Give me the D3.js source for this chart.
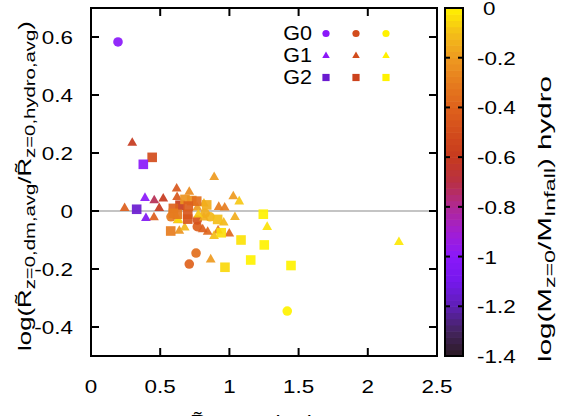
<!DOCTYPE html>
<html>
<head>
<meta charset="utf-8">
<script src="https://cdn.jsdelivr.net/npm/d3@7"></script>
<style>
  html, body { margin: 0; padding: 0; background: #fff; }
  svg { display: block; font-family: "Liberation Sans", Arial, sans-serif; }
</style>
</head>
<body>
<svg id="chart" width="561" height="416"></svg>
<script>
// ---------------- data ----------------
// G0 (circles): x, y, colour value
const g0X = [0.195, 0.759, 0.710, 0.768, 0.768, 0.578, 0.860, 1.418, 0.824];
const g0Y = [0.583, -0.145, -0.183, -0.054, -0.031, -0.020, -0.020, -0.345, -0.008];
const g0C = [-1.00, -0.35, -0.40, -0.42, -0.47, -0.30, -0.12, 0.00, -0.15];

// G1 (triangles)
const g1X = [0.298, 0.890, 0.619, 0.710, 0.390, 0.457, 0.522, 0.243, 0.493, 0.397,
             0.455, 1.028, 1.071, 1.040, 1.273, 0.865, 0.959, 0.999, 0.918, 0.889,
             0.843, 0.807, 0.638, 0.677, 0.626, 0.768, 0.816, 0.923, 0.966, 0.816,
             0.775, 0.622, 2.225, 0.631];
const g1Y = [0.236, 0.118, 0.078, 0.067, 0.046, 0.038, 0.044, 0.011, 0.011, -0.023,
             -0.021, 0.052, 0.034, -0.020, -0.054, -0.166, -0.039, -0.077, -0.066, -0.085,
             -0.071, -0.062, -0.067, -0.056, -0.031, 0.013, 0.027, 0.015, 0.013, -0.022,
             -0.011, 0.049, -0.106, -0.029];
const g1C = [-0.60, -0.20, -0.45, -0.25, -1.00, -0.72, -0.60, -0.42, -0.60, -1.05,
             -0.42, -0.20, -0.08, -0.15, -0.03, -0.20, -0.12, -0.38, -0.30, -0.10,
             -0.38, -0.42, -0.22, -0.12, -0.15, -0.20, -0.12, -0.30, -0.30, -0.15,
             -0.08, -0.45, -0.02, -0.05];

// G2 (squares)
const g2X = [0.442, 0.378, 0.330, 1.245, 1.084, 1.252, 1.154, 0.968, 1.445, 0.941,
             0.576, 0.699, 0.699, 0.643, 0.595, 0.624, 0.679, 0.728, 0.764, 0.703,
             0.836, 0.915, 0.595];
const g2Y = [0.185, 0.161, 0.006, -0.011, -0.100, -0.117, -0.169, -0.194, -0.188, -0.075,
             -0.069, -0.028, -0.011, 0.020, 0.009, -0.011, 0.040, 0.036, 0.034, 0.017,
             0.021, -0.029, -0.008];
const g2C = [-0.50, -1.00, -1.15, 0.00, -0.03, 0.00, 0.00, -0.05, 0.00, -0.04,
             -0.30, -0.45, -0.45, -0.58, -0.40, -0.32, -0.22, -0.22, -0.35, -0.42,
             -0.15, -0.10, -0.30];

// axis ticks
const xTicks = [0, 0.5, 1, 1.5, 2, 2.5];
const yTicks = [-0.4, -0.2, 0, 0.2, 0.4, 0.6];
const cTicks = [-1.4, -1.2, -1, -0.8, -0.6, -0.4, -0.2, 0];

// palette stops (value -> colour)
const palVals = [-1.4, -1.3, -1.2, -1.1, -1.0, -0.9, -0.8, -0.7, -0.6, -0.5, -0.4, -0.3, -0.2, -0.1, 0];
const palCols = ["#2a1a22", "#44245e", "#5e1fb4", "#7518ec", "#8a18fa", "#a21ed2", "#b02894", "#b83044",
                 "#c63a1e", "#d24c1c", "#de621c", "#e67c1e", "#ee9a20", "#f4be18", "#fff200"];

// legend
const legendNames = ["G0", "G1", "G2"];
const legendVals = [[-1.0, -0.5, 0], [-1.0, -0.5, 0], [-1.15, -0.55, 0]];

// ---------------- drawing ----------------
const svg = d3.select("#chart");
const L = 91, R = 437, T = 8, B = 356;
const x = d3.scaleLinear().domain([0, 2.5]).range([L, R]);
const y = d3.scaleLinear().domain([-0.5, 0.7]).range([B, T]);
const pal = d3.scaleLinear().domain(palVals).range(palCols).clamp(true);
const FS = 19, SUB = 15, SX = 1.18;

function stretch(sel, ax, ay, sx) {
  sel.attr("transform", `translate(${ax},${ay}) scale(${sx},1) translate(${-ax},${-ay})`);
}
function fitTitle(txt, cx, cy, target) {
  const len = txt.node().getComputedTextLength();
  txt.attr("transform", `translate(${cx},${cy}) rotate(-90) scale(${target / len},1)`);
}

// zero line
svg.append("line").attr("x1", x(0)).attr("x2", x(2.5)).attr("y1", y(0)).attr("y2", y(0))
  .attr("stroke", "#c4c4c4").attr("stroke-width", 2);

function triPath(w) {
  const h = w * 0.87;
  return `M0,${-h*0.62}L${w/2},${h*0.38}L${-w/2},${h*0.38}Z`;
}

const gPts = svg.append("g");
gPts.selectAll("circle.g0").data(g0X.map((v, i) => ({x: v, y: g0Y[i], c: g0C[i]})))
  .join("circle").attr("cx", d => x(d.x)).attr("cy", d => y(d.y)).attr("r", 4.8)
  .attr("fill", d => pal(d.c)).attr("fill-opacity", 0.92);
gPts.selectAll("path.g1").data(g1X.map((v, i) => ({x: v, y: g1Y[i], c: g1C[i]})))
  .join("path").attr("transform", d => `translate(${x(d.x)},${y(d.y)})`).attr("d", triPath(9.8))
  .attr("fill", d => pal(d.c)).attr("fill-opacity", 0.92);
gPts.selectAll("rect.g2").data(g2X.map((v, i) => ({x: v, y: g2Y[i], c: g2C[i]})))
  .join("rect").attr("x", d => x(d.x) - 4.8).attr("y", d => y(d.y) - 4.8)
  .attr("width", 9.6).attr("height", 9.6)
  .attr("fill", d => pal(d.c)).attr("fill-opacity", 0.92);

// frame + ticks
const axG = svg.append("g").attr("stroke", "#000").attr("stroke-width", 2);
const TL = 8;
xTicks.forEach(t => {
  axG.append("line").attr("x1", x(t)).attr("x2", x(t)).attr("y1", B).attr("y2", B - TL);
  axG.append("line").attr("x1", x(t)).attr("x2", x(t)).attr("y1", T).attr("y2", T + TL);
});
yTicks.forEach(t => {
  axG.append("line").attr("x1", L).attr("x2", L + TL).attr("y1", y(t)).attr("y2", y(t));
  axG.append("line").attr("x1", R).attr("x2", R - TL).attr("y1", y(t)).attr("y2", y(t));
});
axG.append("rect").attr("x", L).attr("y", T).attr("width", R - L).attr("height", B - T).attr("fill", "none");

const fmt = d => (Math.abs(d) < 1e-9 ? "0" : String(+d.toFixed(1)));
svg.append("g").selectAll("text").data(xTicks).join("text")
  .attr("x", d => x(d)).attr("y", 393).attr("text-anchor", "middle")
  .attr("font-size", FS).text(fmt)
  .each(function(d) { stretch(d3.select(this), x(d), 393, SX); });
svg.append("g").selectAll("text").data(yTicks).join("text")
  .attr("x", 73).attr("y", d => y(d) + 7).attr("text-anchor", "end")
  .attr("font-size", FS).text(fmt)
  .each(function(d) { stretch(d3.select(this), 73, y(d) + 7, SX); });

// y axis title
const yt = svg.append("text").attr("text-anchor", "middle").attr("font-size", FS);
yt.append("tspan").text("log(R\u0303");
yt.append("tspan").attr("font-size", SUB).attr("dy", 4).text("z=0,dm,avg");
yt.append("tspan").attr("dy", -4).text("/R\u0303");
yt.append("tspan").attr("font-size", SUB).attr("dy", 4).text("z=0,hydro,avg");
yt.append("tspan").attr("dy", -4).text(")");
fitTitle(yt, 31, 186, 330);

// x axis title (partly cut off at the bottom, as in the original)
const xt = svg.append("text").attr("text-anchor", "middle").attr("font-size", FS);
xt.append("tspan").text("R\u0303");
xt.append("tspan").attr("font-size", SUB).attr("dy", 4).text("z=0,avg");
xt.append("tspan").attr("dy", -4).text(" hydro");
{
  const len = xt.node().getComputedTextLength();
  xt.attr("transform", `translate(261,428) scale(${142 / len},1)`);
}

// legend
const legX = 312, legY = [40, 62, 84];
const legCols = [326, 356, 386];
legendNames.forEach((n, i) => {
  const t = svg.append("text").attr("x", legX).attr("y", legY[i]).attr("text-anchor", "end")
    .attr("font-size", FS + 1).text(n);
  stretch(t, legX, legY[i], 1.08);
  legendVals[i].forEach((v, j) => {
    const cx = legCols[j], cy = legY[i] - 6.5;
    if (i === 0) svg.append("circle").attr("cx", cx).attr("cy", cy).attr("r", 3.6).attr("fill", pal(v));
    else if (i === 1) svg.append("path").attr("transform", `translate(${cx},${cy})`).attr("d", triPath(7.5)).attr("fill", pal(v));
    else svg.append("rect").attr("x", cx - 3.6).attr("y", cy - 3.6).attr("width", 7.2).attr("height", 7.2).attr("fill", pal(v));
  });
});

// colour bar
const CL = 445, CR = 463;
const cy = d3.scaleLinear().domain([-1.4, 0]).range([B, T]);
const nBand = 56;
const bands = d3.range(nBand).map(i => -1.4 + i * (1.4 / nBand));
svg.append("g").selectAll("rect").data(bands).join("rect")
  .attr("x", CL).attr("width", CR - CL)
  .attr("y", d => cy(d + 1.4 / nBand)).attr("height", cy(0) - cy(1.4 / nBand) + 0.6)
  .attr("fill", d => pal(d + 0.7 / nBand));
const cbG = svg.append("g").attr("stroke", "#000").attr("stroke-width", 2);
cTicks.forEach(t => {
  cbG.append("line").attr("x1", CL).attr("x2", CL + 5).attr("y1", cy(t)).attr("y2", cy(t));
  cbG.append("line").attr("x1", CR).attr("x2", CR - 5).attr("y1", cy(t)).attr("y2", cy(t));
});
cbG.append("rect").attr("x", CL).attr("y", T).attr("width", CR - CL).attr("height", B - T).attr("fill", "none");
svg.append("g").selectAll("text").data(cTicks).join("text")
  .attr("x", d => d < -1e-9 ? 477 : 483).attr("y", d => cy(d) + 7)
  .attr("font-size", FS).text(fmt)
  .each(function(d) { const ax = d < -1e-9 ? 477 : 483; stretch(d3.select(this), ax, cy(d) + 7, SX); });

// colour bar title
const ct = svg.append("text").attr("text-anchor", "middle").attr("font-size", FS);
ct.append("tspan").text("log(M");
ct.append("tspan").attr("font-size", SUB).attr("dy", 4).text("z=0");
ct.append("tspan").attr("dy", -4).text("/M");
ct.append("tspan").attr("font-size", SUB).attr("dy", 4).text("Infall");
ct.append("tspan").attr("dy", -4).text(") hydro");
fitTitle(ct, 551, 219, 286);
</script>
</body>
</html>
